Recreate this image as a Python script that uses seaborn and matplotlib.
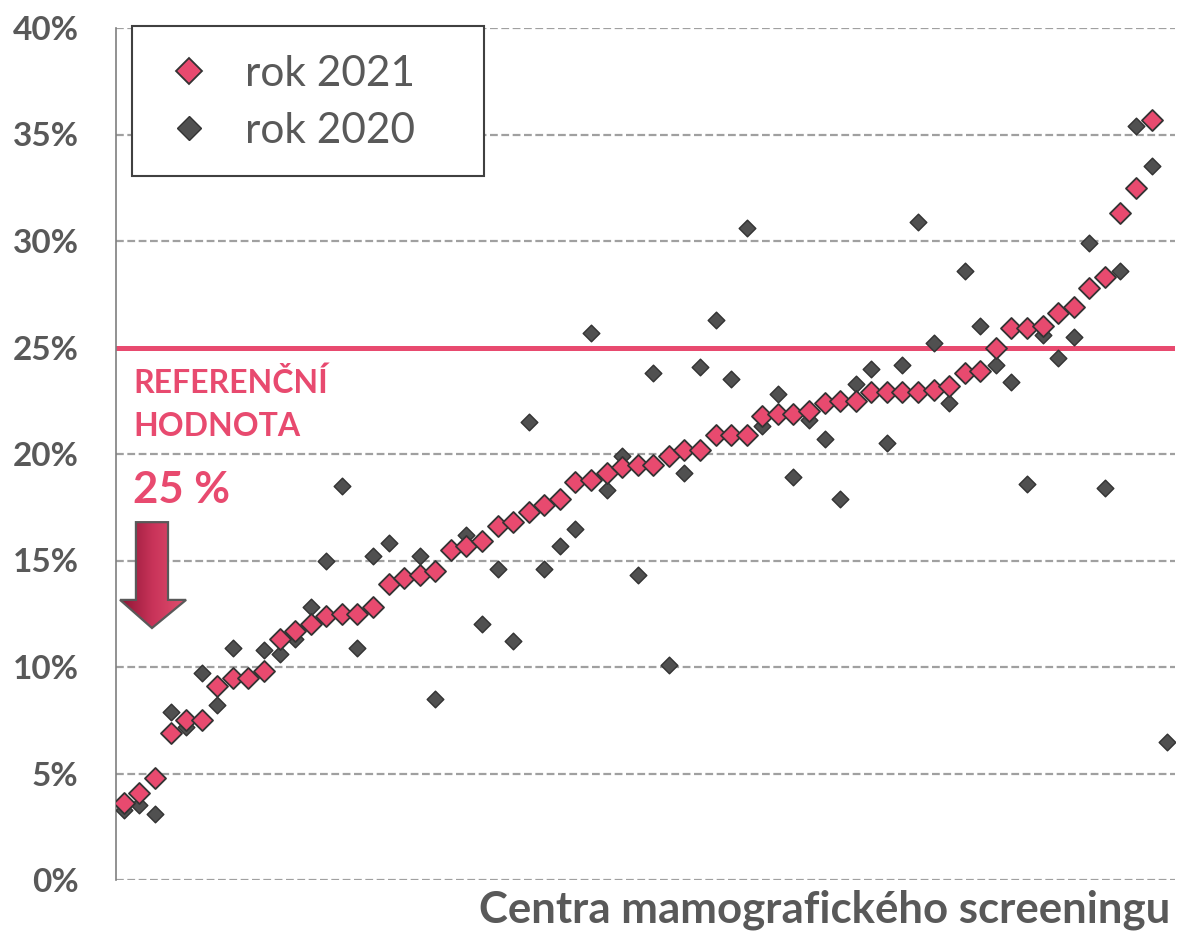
import numpy as np
import pandas as pd
import matplotlib.pyplot as plt
import seaborn as sns
from matplotlib.patches import Polygon, Rectangle
from matplotlib.lines import Line2D
from matplotlib.ticker import MultipleLocator, FuncFormatter

# values (% per screening centre, sorted by 2021)
rok_2021 = [3.6, 4.1, 4.8, 6.9, 7.5, 7.5, 9.1, 9.5, 9.5, 9.8,
            11.3, 11.7, 12.0, 12.4, 12.5, 12.5, 12.8, 13.9, 14.2, 14.3,
            14.5, 15.5, 15.7, 15.9, 16.6, 16.8, 17.3, 17.6, 17.9, 18.7,
            18.8, 19.1, 19.4, 19.5, 19.5, 19.9, 20.2, 20.2, 20.9, 20.9,
            20.9, 21.8, 21.9, 21.9, 22.0, 22.4, 22.5, 22.5, 22.9, 22.9,
            22.9, 22.9, 23.0, 23.2, 23.8, 23.9, 25.0, 25.9, 25.9, 26.0,
            26.6, 26.9, 27.8, 28.3, 31.3, 32.5, 35.7]
rok_2020 = [3.3, 3.5, 3.1, 7.9, 7.2, 9.7, 8.2, 10.9, 9.5, 10.8,
            10.6, 11.3, 12.8, 15.0, 18.5, 10.9, 15.2, 15.8, 14.2, 15.2,
            8.5, 15.5, 16.2, 12.0, 14.6, 11.2, 21.5, 14.6, 15.7, 16.5,
            25.7, 18.3, 19.9, 14.3, 23.8, 10.1, 19.1, 24.1, 26.3, 23.5,
            30.6, 21.3, 22.8, 18.9, 21.6, 20.7, 17.9, 23.3, 24.0, 20.5,
            24.2, 30.9, 25.2, 22.4, 28.6, 26.0, 24.2, 23.4, 18.6, 25.6,
            24.5, 25.5, 29.9, 18.4, 28.6, 35.4, 33.5, 6.5]
reference_value = 25
series_labels = ['rok 2021', 'rok 2020']

PINK = '#E84A6F'
DARK = '#505050'
GRAY_TEXT = '#595959'

df_2021 = pd.DataFrame({'centrum': np.arange(len(rok_2021)), 'podil': rok_2021})
df_2020 = pd.DataFrame({'centrum': np.arange(len(rok_2020)), 'podil': rok_2020})

sns.set_style('white')
plt.rcParams['font.family'] = ['Lato', 'DejaVu Sans']

fig = plt.figure(figsize=(11.79, 9.32), dpi=100)
ax = fig.add_axes([116 / 1179, 1 - 880 / 932, 1059 / 1179, 852 / 932])

# reference line
ax.axhline(reference_value, color=PINK, lw=3.6, zorder=2)

sns.scatterplot(data=df_2020, x='centrum', y='podil', marker='D', s=72,
                color=DARK, edgecolor='#333333', linewidth=1.0, ax=ax, zorder=3)
sns.scatterplot(data=df_2021, x='centrum', y='podil', marker='D', s=115,
                color=PINK, edgecolor='#333333', linewidth=1.3, ax=ax, zorder=4)

ax.set_xticks([])
ax.set_xlabel('')
ax.set_ylabel('')

ax.yaxis.set_major_locator(MultipleLocator(5))
ax.yaxis.set_minor_locator(MultipleLocator(1))
ax.yaxis.set_major_formatter(FuncFormatter(lambda v, p: f'{v:.0f}%'))
ax.tick_params(axis='y', which='major', direction='out', length=7, width=1.2,
               color='#7f7f7f', labelsize=24, labelcolor=GRAY_TEXT, pad=20)
ax.tick_params(axis='y', which='minor', direction='out', length=7, width=1.2,
               color='#7f7f7f')
for lab in ax.get_yticklabels():
    lab.set_fontweight('bold')

ax.yaxis.grid(True, which='major', color='#A0A0A0', lw=1.6,
              linestyle=(0, (3.5, 1.6)), zorder=1)
ax.set_axisbelow(True)

for side in ['top', 'right', 'bottom']:
    ax.spines[side].set_visible(False)
ax.spines['left'].set_color('#7f7f7f')
ax.spines['left'].set_linewidth(1.2)

# annotation text
ax.text(0.016, 1 - (383 - 28) / 852, 'REFERENČNÍ', transform=ax.transAxes,
        color=PINK, fontsize=23, fontweight='bold', va='center', ha='left')
ax.text(0.016, 1 - (427 - 28) / 852, 'HODNOTA', transform=ax.transAxes,
        color=PINK, fontsize=23, fontweight='bold', va='center', ha='left')
ax.text(0.016, 1 - (490 - 28) / 852, '25 %', transform=ax.transAxes,
        color=PINK, fontsize=31.5, fontweight='bold', va='center', ha='left')

# gradient arrow pointing down
arrow_pts = np.array([[0.78, 16.8], [2.84, 16.8], [2.84, 13.15], [4.0, 13.15],
                      [1.81, 11.83], [-0.24, 13.15], [0.78, 13.15]])
arrow = Polygon(arrow_pts, closed=True, facecolor='none', edgecolor=GRAY_TEXT,
                lw=1.6, zorder=6)
ax.add_patch(arrow)
grad = np.linspace(0, 1, 200).reshape(1, -1)
cmap = sns.blend_palette(['#8E1534', '#C9345A', '#E0506F'], as_cmap=True)
img = ax.imshow(grad, extent=[-0.24, 4.0, 11.83, 16.8], aspect='auto',
                cmap=cmap, zorder=5, interpolation='bicubic')
img.set_clip_path(arrow)
ax.set_xlim(-0.5, len(rok_2020) - 0.5)
ax.set_ylim(0, 40)

# legend: frame drawn as a rectangle, entries from ax.legend
box_x0, box_y0 = (132 - 116) / 1059, (880 - 176) / 852
box_w, box_h = (484 - 132) / 1059, (176 - 26) / 852
ax.add_patch(Rectangle((box_x0, box_y0), box_w, box_h, transform=ax.transAxes,
                       facecolor='white', edgecolor='#404040', lw=1.5,
                       zorder=7, clip_on=False))
handles = [Line2D([], [], marker='D', ls='none', markersize=13.5,
                  markerfacecolor=PINK, markeredgecolor='#333333', markeredgewidth=1.3),
           Line2D([], [], marker='D', ls='none', markersize=12,
                  markerfacecolor=DARK, markeredgecolor='#333333', markeredgewidth=1.0)]
leg = ax.legend(handles, series_labels, loc='upper left',
                bbox_to_anchor=(box_x0 - 7 / 1059, box_y0 + box_h), borderaxespad=0,
                frameon=False, fontsize=30.5, labelcolor=GRAY_TEXT,
                handletextpad=0.52, borderpad=0.68, labelspacing=0.45,
                handlelength=1.64)
leg.set_zorder(8)

fig.text(1170 / 1179, 1 - 910 / 932, 'Centra mamografického screeningu',
         color=GRAY_TEXT, fontsize=31.5, fontweight='bold', ha='right', va='center')

fig.savefig('out.png', dpi=100, facecolor='white')
